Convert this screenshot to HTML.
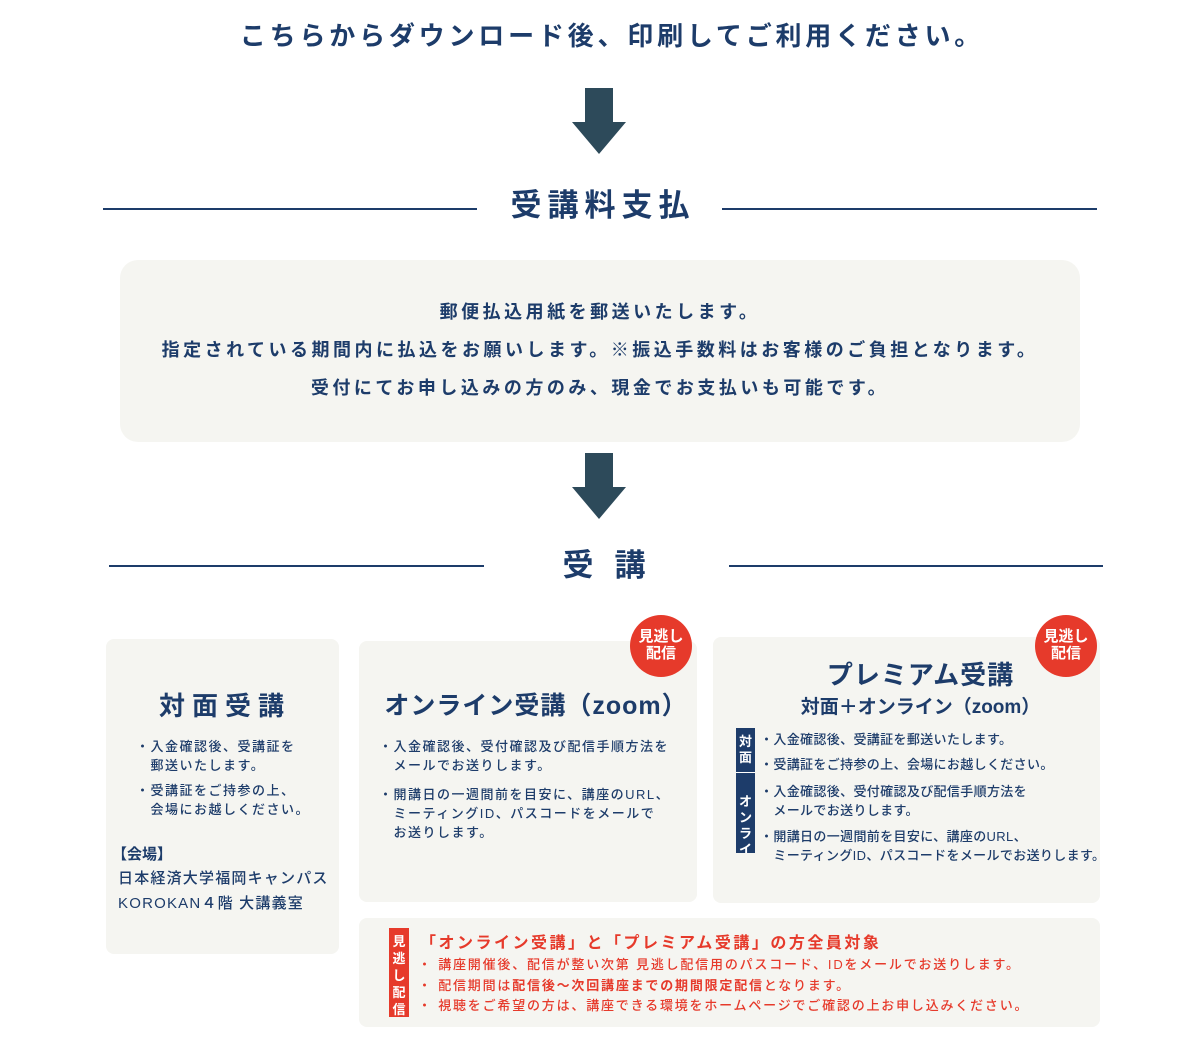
<!DOCTYPE html>
<html><head><meta charset="utf-8"><style>
*{margin:0;padding:0;box-sizing:border-box}
body{width:1200px;height:1050px;background:#fff;position:relative;font-family:"Liberation Sans","Noto Sans CJK JP",sans-serif;color:#1d3c6a;overflow:hidden}
.a{position:absolute;white-space:nowrap}
.c{left:0;width:1200px;text-align:center}
.b{font-weight:bold}
.ln{position:absolute;height:2px;background:#1d3c6a}
.card{position:absolute;background:#f5f5f1;border-radius:8px}
.badge{position:absolute;width:62px;height:62px;border-radius:50%;background:#e63a2b;color:#fff;font-weight:bold;font-size:15px;line-height:17px;text-align:center;padding-top:13px}
.s{font-size:13px;line-height:19px;font-weight:500;letter-spacing:1.5px}
.s3{letter-spacing:0.35px}
.r{color:#e63a2b}
</style></head><body>
<div class="a c b" style="top:16px;font-size:26px;letter-spacing:3.8px;padding-left:24px">こちらからダウンロード後、印刷してご利用ください。</div>
<svg class="a" style="left:572px;top:88px" width="54" height="66"><rect x="13" y="0" width="28" height="35" fill="#2d4a5a"/><polygon points="0,34 54,34 27,66" fill="#2d4a5a"/></svg>
<div class="ln" style="left:103px;top:208px;width:374px"></div>
<div class="ln" style="left:722px;top:208px;width:375px"></div>
<div class="a c b" style="top:180px;font-size:31px;letter-spacing:6px;padding-left:6px">受講料支払</div>
<div class="card" style="left:120px;top:260px;width:960px;height:182px;border-radius:18px"></div>
<div class="a c b" style="top:293px;font-size:18px;line-height:38px;letter-spacing:3.5px">郵便払込用紙を郵送いたします。<br>指定されている期間内に払込をお願いします。※振込手数料はお客様のご負担となります。<br>受付にてお申し込みの方のみ、現金でお支払いも可能です。</div>
<svg class="a" style="left:572px;top:453px" width="54" height="66"><rect x="13" y="0" width="28" height="35" fill="#2d4a5a"/><polygon points="0,34 54,34 27,66" fill="#2d4a5a"/></svg>
<div class="ln" style="left:109px;top:565px;width:375px"></div>
<div class="ln" style="left:729px;top:565px;width:374px"></div>
<div class="a c b" style="top:540px;font-size:31px;letter-spacing:21px;padding-left:29px">受講</div>

<div class="card" style="left:106px;top:639px;width:233px;height:315px"></div>
<div class="a b" style="left:106px;width:233px;text-align:center;top:686px;font-size:26px;letter-spacing:7px;padding-left:5px">対面受講</div>
<div class="a s" style="left:136px;top:737px">・入金確認後、受講証を<br>　郵送いたします。</div>
<div class="a s" style="left:136px;top:781px">・受講証をご持参の上、<br>　会場にお越しください。</div>
<div class="a b" style="left:112px;top:843px;font-size:15px">【会場】</div>
<div class="a" style="left:118px;top:866px;font-size:15px;line-height:25px;font-weight:500;letter-spacing:1.2px">日本経済大学福岡キャンパス<br>KOROKAN４階 大講義室</div>

<div class="card" style="left:359px;top:641px;width:338px;height:261px"></div>
<div class="badge" style="left:630px;top:615px">見逃し<br>配信</div>
<div class="a b" style="left:359px;width:338px;text-align:center;top:686px;font-size:25px;letter-spacing:1px;padding-left:16px">オンライン受講（zoom）</div>
<div class="a s" style="left:379px;top:737px">・入金確認後、受付確認及び配信手順方法を<br>　メールでお送りします。</div>
<div class="a s" style="left:379px;top:785px">・開講日の一週間前を目安に、講座のURL、<br>　ミーティングID、パスコードをメールで<br>　お送りします。</div>

<div class="card" style="left:713px;top:637px;width:387px;height:266px"></div>
<div class="badge" style="left:1035px;top:615px">見逃し<br>配信</div>
<div class="a b" style="left:713px;width:415px;text-align:center;top:655px;font-size:26px;letter-spacing:1px">プレミアム受講</div>
<div class="a b" style="left:713px;width:415px;text-align:center;top:692px;font-size:19px">対面＋オンライン（zoom）</div>
<div class="a" style="left:736px;top:728px;width:19px;height:125px;background:#1d3c6a;overflow:hidden;color:#fff;font-size:13px;font-weight:bold;text-align:center;line-height:16px;padding-top:6px">対<br>面<div style="height:22px;border-top:1px solid #fff;margin-top:6px"></div>オ<br>ン<br>ラ<br>イ<br>ン</div>
<div class="a s s3" style="left:760px;top:727px;line-height:25px">・入金確認後、受講証を郵送いたします。<br>・受講証をご持参の上、会場にお越しください。</div>
<div class="a s s3" style="left:760px;top:782px">・入金確認後、受付確認及び配信手順方法を<br>　メールでお送りします。</div>
<div class="a s s3" style="left:760px;top:827px">・開講日の一週間前を目安に、講座のURL、<br>　ミーティングID、パスコードをメールでお送りします。</div>

<div class="card" style="left:359px;top:918px;width:741px;height:109px"></div>
<div class="a" style="left:389px;top:928px;width:20px;height:89px;background:#e63a2b;color:#fff;font-size:13px;font-weight:bold;text-align:center;line-height:17px;padding-top:5px">見<br>逃<br>し<br>配<br>信</div>
<div class="a b r" style="left:420px;top:929px;font-size:16px;letter-spacing:2.5px">「オンライン受講」と「プレミアム受講」の方全員対象</div>
<div class="a r" style="left:418px;top:955px;font-size:13px;line-height:20.5px;font-weight:500;letter-spacing:1.8px">・ 講座開催後、配信が整い次第 見逃し配信用のパスコード、IDをメールでお送りします。<br>・ 配信期間は<b>配信後〜次回講座までの期間限定配信</b>となります。<br>・ 視聴をご希望の方は、講座できる環境をホームページでご確認の上お申し込みください。</div>
</body></html>
